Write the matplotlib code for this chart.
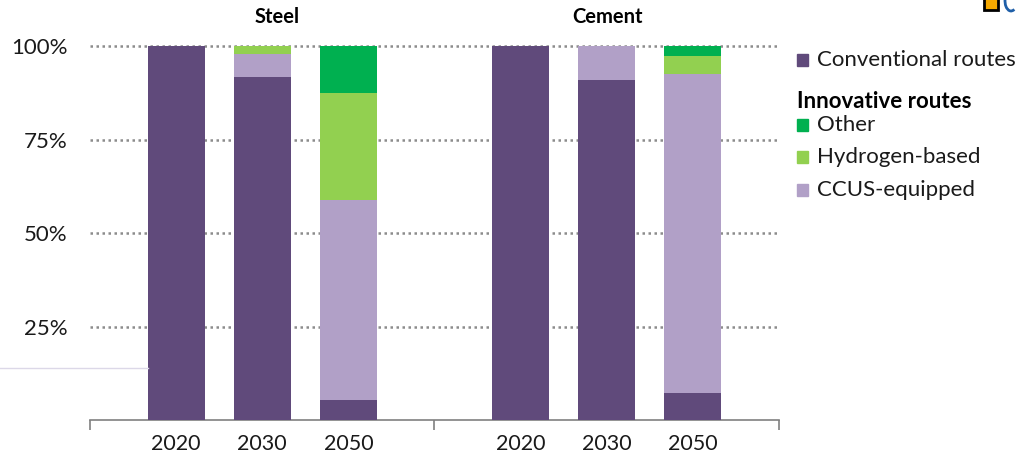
import matplotlib.pyplot as plt
from matplotlib.patches import Rectangle, Arc
from matplotlib.lines import Line2D

plt.rcParams['font.family'] = ['Lato', 'DejaVu Sans']

# Data (share of production, %)
sectors = ['Steel', 'Cement']
years = ['2020', '2030', '2050']
conventional = [100, 91.8, 5.3, 100, 91.0, 7.2]
ccus = [0, 6.0, 53.5, 0, 9.0, 85.4]
hydrogen = [0, 2.2, 28.5, 0, 0, 4.6]
other = [0, 0, 12.7, 0, 0, 2.8]

col_conv = '#604a7b'
col_ccus = '#b1a0c7'
col_h2 = '#92d050'
col_other = '#00b050'

fig = plt.figure(figsize=(10.18, 4.55), dpi=100)
ax = fig.add_axes([0.0884, 0.0769, 0.6768, 0.822])

# bar positions: three per sector, sector groups are 4 units wide
pos = [1, 2, 3, 5, 6, 7]
w = 0.66
ax.bar(pos, conventional, w, color=col_conv, zorder=3)
b1 = [c for c in conventional]
ax.bar(pos, ccus, w, bottom=b1, color=col_ccus, zorder=3)
b2 = [b + c for b, c in zip(b1, ccus)]
ax.bar(pos, hydrogen, w, bottom=b2, color=col_h2, zorder=3)
b3 = [b + h for b, h in zip(b2, hydrogen)]
ax.bar(pos, other, w, bottom=b3, color=col_other, zorder=3)

ax.set_xlim(0, 8)
ax.set_ylim(0, 100)
for v in [25, 50, 75, 100]:
    ax.axhline(v, color='#8c8c8c', lw=1.8, linestyle=(0, (1, 1.4)), zorder=1, clip_on=False)

ax.set_yticks([25, 50, 75, 100])
ax.set_yticklabels(['25%', '50%', '75%', '100%'])
ax.set_xticks([0, 4, 8])
ax.set_xticklabels([])
ax.set_xticks(pos, minor=True)
ax.set_xticklabels(years * 2, minor=True)
ax.tick_params(axis='x', which='major', length=7, color='#808080', width=1.2)
ax.tick_params(axis='x', which='minor', length=0, labelsize=15.5, pad=10, colors='#1a1a1a')
ax.tick_params(axis='y', length=0, labelsize=16, pad=16, colors='#1a1a1a')
for s in ['top', 'right', 'left']:
    ax.spines[s].set_visible(False)
ax.spines['bottom'].set_color('#808080')
ax.spines['bottom'].set_linewidth(1.2)

ax.text(2.17, 105, sectors[0], ha='center', va='bottom', fontsize=14.5, fontweight='bold')
ax.text(6.01, 105, sectors[1], ha='center', va='bottom', fontsize=14.5, fontweight='bold')

# legend drawn by hand
leg = [(col_conv, 'Conventional routes', 60), (None, 'Innovative routes', 102),
       (col_other, 'Other', 125), (col_h2, 'Hydrogen-based', 157), (col_ccus, 'CCUS-equipped', 190)]
for c, label, yp in leg:
    yf = 1 - yp / 455
    if c is None:
        fig.text(797 / 1018, yf, label, fontsize=16, fontweight='bold', va='center')
    else:
        fig.patches.append(Rectangle((797 / 1018, yf - 6 / 455), 11 / 1018, 12 / 455,
                                     transform=fig.transFigure, color=c))
        fig.text(817 / 1018, yf, label, fontsize=16, va='center', color='#1a1a1a')

# faint line at left and cropped icon at top right
fig.add_artist(Line2D([0, 148 / 1018], [1 - 368 / 455] * 2, color='#dcd8e8', lw=1))
fig.patches.append(Rectangle((984 / 1018, 1 - 10 / 455), 14 / 1018, 16 / 455,
                             transform=fig.transFigure, facecolor='#f5a800',
                             edgecolor='black', lw=2))
fig.patches.append(Arc((1011 / 1018, 1 - 1 / 455), 12 / 1018, 20 / 455, theta1=100, theta2=280,
                       transform=fig.transFigure, color='#1f5fa8', lw=2))

fig.savefig('out.png', dpi=100)
